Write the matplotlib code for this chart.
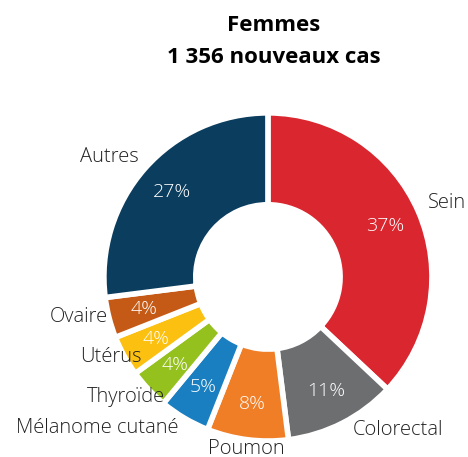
import matplotlib.pyplot as plt
import numpy as np

plt.rcParams['font.family'] = ['Open Sans', 'DejaVu Sans']

labels = ['Sein', 'Colorectal', 'Poumon', 'Mélanome cutané', 'Thyroïde', 'Utérus', 'Ovaire', 'Autres']
valeurs = [37, 11, 8, 5, 4, 4, 4, 27]
couleurs = ['#da262e', '#6d6e70', '#f07e26', '#1a7fc1', '#95c11f', '#fcc010', '#c55a16', '#0b3d5e']

fig = plt.figure(figsize=(4.68, 4.57), dpi=100)
ax = fig.add_axes([0.222, 0.035, 0.701, 0.718])

wedges, _ = ax.pie(valeurs, colors=couleurs, startangle=90, counterclock=False,
                   radius=1, wedgeprops=dict(width=0.56, edgecolor='white', linewidth=4))
ax.set_xlim(-1, 1)
ax.set_ylim(-1, 1)
ax.set_aspect('auto')

# placement des etiquettes exterieures (distance, decalage d'angle, alignement)
dist = [1.075, 1.067, 1.057, 1.07, 0.964, 0.91, 1.005, 1.075]
decal = [1.4, 2.1, 0, 0, 6.2, 3.6, -0.4, -1.5]
ha = ['left', 'left', 'center', 'right', 'right', 'right', 'right', 'right']
for w, lab, v, d, s, h in zip(wedges, labels, valeurs, dist, decal, ha):
    m = np.deg2rad((w.theta1 + w.theta2) / 2)
    a = m + np.deg2rad(s)
    ax.text(d * np.cos(a), d * np.sin(a), lab,
            ha=h, va='center', fontsize=14.5, color='#222222', fontweight='light')
    ax.text(0.78 * np.cos(m), 0.78 * np.sin(m), f'{v}%', ha='center', va='center',
            fontsize=14, color='white', fontweight='light')

fig.text(0.585, 0.945, 'Femmes', ha='center', va='center', fontsize=16, fontweight='bold')
fig.text(0.585, 0.874, '1 356 nouveaux cas', ha='center', va='center', fontsize=16, fontweight='bold')

fig.savefig('out.png', dpi=100)
